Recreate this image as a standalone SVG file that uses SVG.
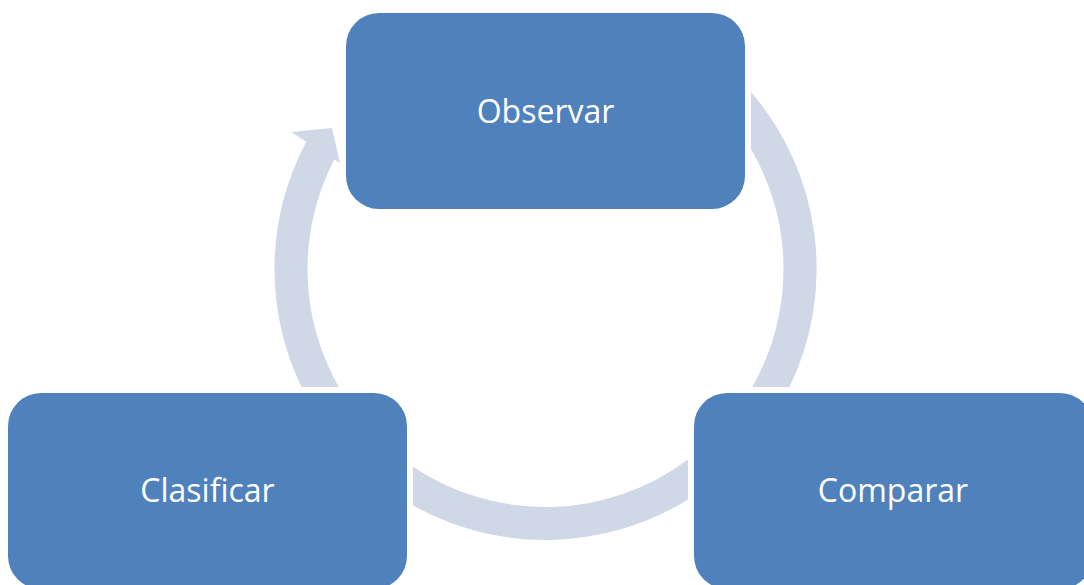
<svg xmlns="http://www.w3.org/2000/svg" width="1084" height="585" viewBox="0 0 1084 585">
  <style>
    .box { fill: #4F81BD; }
    .label { fill: #FFFFFF; font-family: "Open Sans", "Liberation Sans", sans-serif; font-size: 32px; text-anchor: middle; }
    .band { fill: #D0D8E8; }
  </style>
  <rect width="1084" height="585" fill="#FFFFFF"/>

  <!-- cycle band: three arc segments around centre (545.5, 269) -->
  <g id="connectors">
    <path class="band" d="M751,92 A271,271 0 0 1 789.5,387 L752.2,387 A238,238 0 0 0 751,149 Z"/>
    <path class="band" d="M688,459.6 A238,238 0 0 1 413,466.7 L413,505.4 A271,271 0 0 0 688,499.5 Z"/>
    <path class="band" d="M301.5,387 A271,271 0 0 1 306.3,141.7 L291,132 L332,128 L340,163 L334.3,159.4 A238,238 0 0 0 338.8,387 Z"/>
  </g>

  <g id="observar">
    <rect class="box" x="346" y="13" width="399" height="196" rx="33" ry="33"/>
    <text class="label" x="545.5" y="122.5">Observar</text>
  </g>

  <g id="comparar">
    <rect class="box" x="694" y="393" width="399" height="196" rx="33" ry="33"/>
    <text class="label" x="893" y="501.5">Comparar</text>
  </g>

  <g id="clasificar">
    <rect class="box" x="8" y="393" width="399" height="196" rx="33" ry="33"/>
    <text class="label" x="207.5" y="501.5">Clasificar</text>
  </g>
</svg>
